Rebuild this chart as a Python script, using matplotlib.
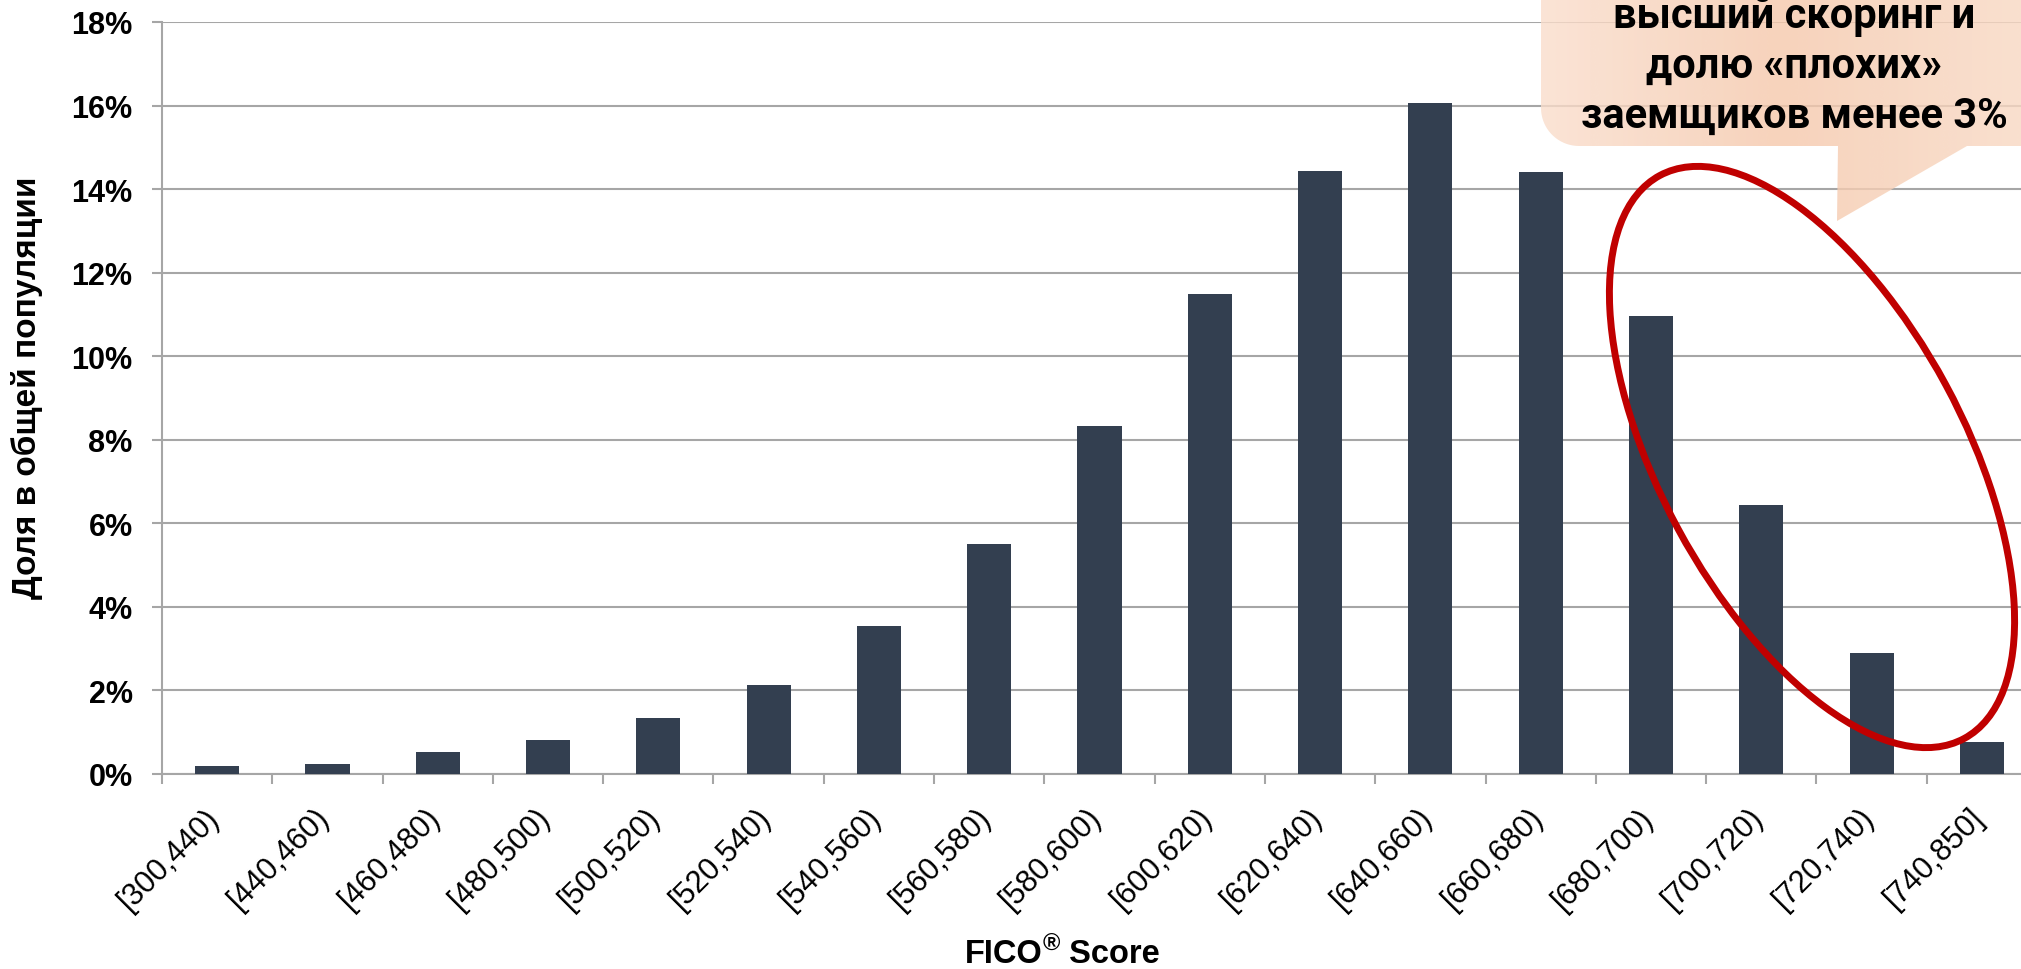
import numpy as np
import matplotlib
matplotlib.use("Agg")
import matplotlib.pyplot as plt
from matplotlib import font_manager
from matplotlib.colors import to_rgb
from matplotlib.patches import Ellipse, PathPatch
from matplotlib.path import Path
from matplotlib.ticker import FuncFormatter
from matplotlib.transforms import ScaledTranslation

# --- data ------------------------------------------------------------------
bins = ["[300,440)", "[440,460)", "[460,480)", "[480,500)", "[500,520)",
        "[520,540)", "[540,560)", "[560,580)", "[580,600)", "[600,620)",
        "[620,640)", "[640,660)", "[660,680)", "[680,700)", "[700,720)",
        "[720,740)", "[740,850]"]
share = [0.19, 0.23, 0.53, 0.81, 1.33, 2.13, 3.55, 5.50, 8.33, 11.48,
         14.44, 16.05, 14.41, 10.97, 6.43, 2.90, 0.77]   # % of population
y_ticks = [0, 2, 4, 6, 8, 10, 12, 14, 16, 18]

y_label = "Доля в общей популяции"
callout_lines = ["высший скоринг и", "долю «плохих»", "заемщиков менее 3%"]

W, H, DPI = 2021, 970, 100
BAR_COLOR = "#333F50"
GRID_COLOR = "#A6A6A6"
RED = "#C00000"

installed = {f.name for f in font_manager.fontManager.ttflist}
NARROW = "Liberation Sans Narrow" if "Liberation Sans Narrow" in installed else "Liberation Sans"
if "Roboto" in installed:
    CALLOUT_FONT, CALLOUT_SIZE = "Roboto", 30
else:
    CALLOUT_FONT, CALLOUT_SIZE = "Liberation Sans", 28
plt.rcParams["font.family"] = ["Liberation Sans", "DejaVu Sans"]

fig = plt.figure(figsize=(W / DPI, H / DPI), dpi=DPI)
ax = fig.add_axes([162 / W, 195 / H, 1875 / W, 752 / H])

x = np.arange(len(bins))
ax.bar(x, share, width=0.4, color=BAR_COLOR, zorder=3)
ax.set_xlim(-0.5, len(bins) - 0.5)
ax.set_ylim(0, 18)

# y axis
ax.set_yticks(y_ticks)
ax.yaxis.set_major_formatter(FuncFormatter(lambda v, _: f"{v:.0f}%"))
ax.tick_params(axis="y", length=7.2, width=1.5, color=GRID_COLOR, pad=14,
               labelsize=22)
for lab in ax.get_yticklabels():
    lab.set_fontweight("bold")
ax.grid(axis="y", color=GRID_COLOR, lw=1.5, zorder=0)
ax.set_axisbelow(True)
for s in ["top", "right"]:
    ax.spines[s].set_visible(False)
for s in ["left", "bottom"]:
    ax.spines[s].set_color(GRID_COLOR)
    ax.spines[s].set_linewidth(1.5)

# x axis: labels at bar centres, tick marks between categories
ax.set_xticks(x)
ax.set_xticklabels(bins, rotation=45, ha="right", va="top",
                   rotation_mode="anchor", fontsize=22)
ax.set_xticks(np.arange(-0.5, len(bins)), minor=True)
ax.tick_params(axis="x", which="major", length=0, pad=20)
ax.tick_params(axis="x", which="minor", length=7.2, width=1.5,
               color=GRID_COLOR, direction="out")
shift = ScaledTranslation(-13 / DPI, 0, fig.dpi_scale_trans)
for lab in ax.get_xticklabels():
    lab.set_transform(lab.get_transform() + shift)

fig.text(27 / W, 1 - 388 / H, y_label, rotation=90, ha="center",
         va="center", fontsize=24, fontweight="bold")

# overlay in pixel coordinates (origin top-left) for the annotations
ov = fig.add_axes([0, 0, 1, 1])
ov.set_xlim(0, W)
ov.set_ylim(H, 0)
ov.axis("off")
ov.patch.set_alpha(0)

# x axis title: FICO(R) Score with raised (R)
parts = [("FICO", 23.5, 0), ("®", 17, -12), (" Score", 23.5, 0)]
texts = [ov.text(0, 963 + dy, s, fontsize=fs, fontweight="bold",
                 family=[NARROW, "DejaVu Sans"], va="baseline")
         for s, fs, dy in parts]
fig.canvas.draw()
widths = [t.get_window_extent().width for t in texts]
xpos = 1062 - sum(widths) / 2
for t, w in zip(texts, widths):
    t.set_x(xpos)
    xpos += w

# callout bubble (peach, semi-transparent, horizontal gradient)
r = 38
t_arc = np.linspace(np.pi, np.pi / 2, 20)
arc = np.column_stack([1541 + r + r * np.cos(t_arc), 147 - r + r * np.sin(t_arc)])
verts = np.vstack([[[1541, -60]], arc,
                   [[1838, 147], [1837, 222], [1967, 147],
                    [2071, 147], [2071, -60], [1541, -60]]])
codes = [Path.MOVETO] + [Path.LINETO] * (len(verts) - 2) + [Path.CLOSEPOLY]
bubble = PathPatch(Path(verts, codes), facecolor="none", edgecolor="none")
ov.add_patch(bubble)

alpha = 0.8
stops_x = [1541, 1780, 2021]
stops_c = [to_rgb("#FBE4D6"), to_rgb("#F7D3BC"), to_rgb("#FAE0CF")]
gx = np.linspace(1541, 2071, 300)
grad = np.ones((1, gx.size, 4))
for k in range(3):
    obs = np.interp(gx, stops_x, [c[k] for c in stops_c])
    grad[0, :, k] = np.clip((obs - (1 - alpha)) / alpha, 0, 1)
grad[0, :, 3] = alpha
im = ov.imshow(grad, extent=(1541, 2071, 230, -60), aspect="auto",
               interpolation="bilinear", zorder=1)
im.set_clip_path(bubble)
ov.set_xlim(0, W)
ov.set_ylim(H, 0)

for i, line in enumerate(callout_lines):
    ov.text(1794, 28 + 50 * i, line, ha="center", va="baseline",
            fontsize=CALLOUT_SIZE, fontweight="bold",
            family=[CALLOUT_FONT, "DejaVu Sans"], zorder=3)

# red ellipse around the high-score tail
ov.add_patch(Ellipse((1812, 458), 640, 304, angle=61.6, fill=False,
                     edgecolor=RED, lw=5, zorder=2))

fig.savefig("out.png", dpi=DPI)
